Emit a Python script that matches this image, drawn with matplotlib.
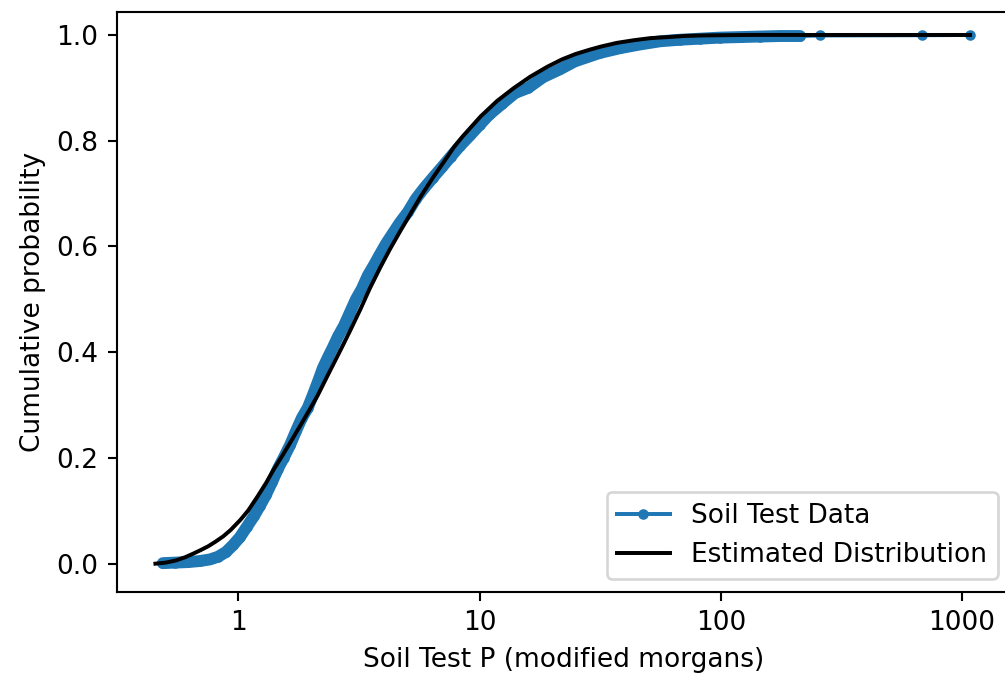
import numpy as np
import matplotlib.pyplot as plt

# soil test P values (modified morgans)
soil_p = [0.486, 0.545, 0.618, 0.692, 0.762, 0.822, 0.888, 0.949, 1.014, 1.085,
          1.16, 1.23, 1.30, 1.38, 1.46, 1.54, 1.64, 1.73, 1.83, 1.94,
          2.04, 2.14, 2.24, 2.35, 2.47, 2.59, 2.74, 2.90, 3.07, 3.25,
          3.44, 3.65, 3.86, 4.09, 4.37, 4.67, 5.04, 5.44, 5.88, 6.40,
          6.98, 7.60, 8.28, 9.12, 10.0, 11.0, 12.4, 14.0, 15.9, 18.3,
          21.5, 24.8, 31.5, 38.2, 46.2, 55.9, 67.7, 81.9, 99.1, 120,
          145, 176, 213, 258, 682, 1079]
soil_cdf = [0.001, 0.002, 0.003, 0.005, 0.008, 0.013, 0.022, 0.035, 0.05, 0.07,
            0.09, 0.11, 0.13, 0.155, 0.18, 0.20, 0.225, 0.25, 0.275, 0.295,
            0.32, 0.345, 0.37, 0.39, 0.41, 0.43, 0.45, 0.475, 0.50, 0.52,
            0.545, 0.565, 0.585, 0.605, 0.625, 0.645, 0.665, 0.69, 0.71, 0.73,
            0.75, 0.77, 0.79, 0.81, 0.83, 0.85, 0.87, 0.89, 0.90, 0.92,
            0.935, 0.95, 0.966, 0.975, 0.982, 0.988, 0.991, 0.993, 0.995, 0.996,
            0.997, 0.998, 0.998, 0.999, 0.9995, 1.0]

# estimated (fitted) distribution
est_p = [0.453, 0.50, 0.55, 0.60, 0.65, 0.70, 0.75, 0.80, 0.867, 0.93,
         1.02, 1.10, 1.20, 1.30, 1.40, 1.52, 1.64, 1.81, 2.00, 2.13,
         2.35, 2.65, 2.90, 3.21, 3.50, 3.88, 4.25, 4.70, 5.20, 5.69,
         6.40, 7.36, 7.80, 8.50, 10.1, 11.8, 13.8, 16.2, 19.1, 22.0,
         25.0, 28.5, 31.8, 37.0, 43.5, 51.0, 60.3, 70.0, 82.6, 100,
         130, 1079]
est_cdf = [0.0, 0.002, 0.006, 0.012, 0.019, 0.026, 0.033, 0.041, 0.052, 0.064,
           0.083, 0.101, 0.127, 0.152, 0.178, 0.204, 0.229, 0.262, 0.296, 0.318,
           0.357, 0.404, 0.440, 0.482, 0.520, 0.561, 0.595, 0.630, 0.664, 0.694,
           0.730, 0.770, 0.787, 0.808, 0.846, 0.875, 0.899, 0.921, 0.940, 0.954,
           0.964, 0.972, 0.978, 0.985, 0.990, 0.994, 0.996, 0.998, 0.999, 0.9995,
           1.0, 1.0]

fig = plt.figure(figsize=(1005 / 190, 677 / 190), dpi=190)
ax = fig.add_axes([116.7 / 1005, (677 - 591.7) / 677, 894 / 1005, 580 / 677])

# dense points in the original overlap into a thick band (only where they are dense)
n_dense = 63
ax.plot(soil_p[:n_dense], soil_cdf[:n_dense], color='C0', lw=4.5, solid_capstyle='round')
ax.plot(soil_p, soil_cdf, marker='.', color='C0', label='Soil Test Data')
ax.plot(est_p, est_cdf, color='k', label='Estimated Distribution')

ax.set_xscale('log')
ax.set_xlim(0.313, 1590)
ax.set_ylim(-0.053, 1.044)
ax.set_xticks([1, 10, 100, 1000])
ax.set_xticklabels(['1', '10', '100', '1000'])
ax.minorticks_off()

ax.set_xlabel('Soil Test P (modified morgans)')
ax.set_ylabel('Cumulative probability')
ax.legend(loc='lower right')

fig.savefig('out.png', dpi=190)
